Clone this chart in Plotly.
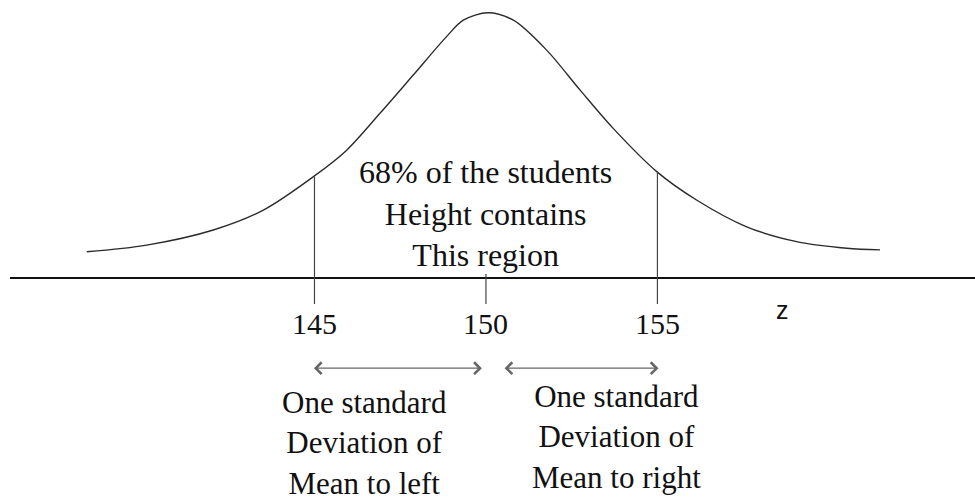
import plotly.graph_objects as go

# Bell curve of student heights (cm): x positions and relative density (peak = 1)
curve_x = [138.36, 140.11, 142.05, 143.51, 144.97, 145.94, 146.91, 147.88, 148.85,
           149.34, 150.06, 150.80, 151.77, 152.74, 153.71, 154.98, 156.14, 157.60,
           159.06, 160.52, 161.49]
curve_y = [0.099, 0.124, 0.181, 0.256, 0.382, 0.482, 0.621, 0.765, 0.910,
           0.972, 1.000, 0.972, 0.859, 0.709, 0.564, 0.401, 0.294, 0.193,
           0.137, 0.112, 0.106]

mean = 150
sd = 5
tick_values = [145, 150, 155]
tick_labels = ["145", "150", "155"]
# curve height where the one-sd markers meet it
sd_marker_x = [mean - sd, mean + sd]
sd_marker_top = [0.382, 0.401]

center_text = "68% of the students<br>Height contains<br>This region"
left_text = "One standard<br>Deviation of<br>Mean to left"
right_text = "One standard<br>Deviation of<br>Mean to right"

serif = "Liberation Serif"
x_range = [135.83, 164.26]
y_range = [-0.852, 1.048]

fig = go.Figure()
fig.add_trace(go.Scatter(
    x=curve_x, y=curve_y, mode="lines",
    line=dict(color="#2b2b2b", width=1.4, shape="spline", smoothing=0.9),
    hoverinfo="skip", showlegend=False,
))

shapes = []
# baseline
shapes.append(dict(type="line", xref="x", yref="y", x0=136.12, x1=x_range[1], y0=0, y1=0,
                   line=dict(color="#111111", width=1.8)))
# one-sd vertical markers
for xv, top in zip(sd_marker_x, sd_marker_top):
    shapes.append(dict(type="line", xref="x", yref="y", x0=xv, x1=xv, y0=top, y1=-0.098,
                       line=dict(color="#444444", width=1.2)))
# mean tick
shapes.append(dict(type="line", xref="x", yref="y", x0=mean, x1=mean, y0=0.015, y1=-0.098,
                   line=dict(color="#444444", width=1.2)))

annotations = []
for tv, tl in zip(tick_values, tick_labels):
    annotations.append(dict(x=tv, y=-0.17, xref="x", yref="y", text=tl, showarrow=False,
                            font=dict(family=serif, size=30, color="#111111"),
                            xanchor="center", yanchor="middle"))
annotations.append(dict(x=158.66, y=-0.119, xref="x", yref="y", text="z", showarrow=False,
                        font=dict(family="Liberation Sans", size=25, color="#111111"),
                        xanchor="center", yanchor="middle"))
annotations.append(dict(x=mean, y=0.245, xref="x", yref="y", text=center_text,
                        showarrow=False, align="center",
                        font=dict(family=serif, size=32, color="#111111"),
                        xanchor="center", yanchor="middle"))
annotations.append(dict(x=146.47, y=-0.622, xref="x", yref="y", text=left_text,
                        showarrow=False, align="center",
                        font=dict(family=serif, size=31, color="#111111"),
                        xanchor="center", yanchor="middle"))
annotations.append(dict(x=153.82, y=-0.600, xref="x", yref="y", text=right_text,
                        showarrow=False, align="center",
                        font=dict(family=serif, size=31, color="#111111"),
                        xanchor="center", yanchor="middle"))

# double-headed arrows spanning one standard deviation on each side
arrow_y = -0.34
gap_left, gap_right = 0.12, 0.5
for x_start, x_end in [(mean - sd - 0.06, mean - gap_left), (mean + gap_right, mean + sd + 0.03)]:
    annotations.append(dict(x=x_end, y=arrow_y, ax=x_start, ay=arrow_y,
                            xref="x", yref="y", axref="x", ayref="y",
                            text="", showarrow=True, arrowhead=4, startarrowhead=4,
                            arrowside="end+start", arrowsize=1.9, startarrowsize=1.9,
                            arrowwidth=1.2, arrowcolor="#666666"))

fig.update_layout(
    width=975, height=504,
    margin=dict(l=0, r=0, t=0, b=0),
    paper_bgcolor="white", plot_bgcolor="white",
    xaxis=dict(range=x_range, visible=False, fixedrange=True),
    yaxis=dict(range=y_range, visible=False, fixedrange=True),
    shapes=shapes, annotations=annotations, showlegend=False,
)

fig.write_html("out.html")
